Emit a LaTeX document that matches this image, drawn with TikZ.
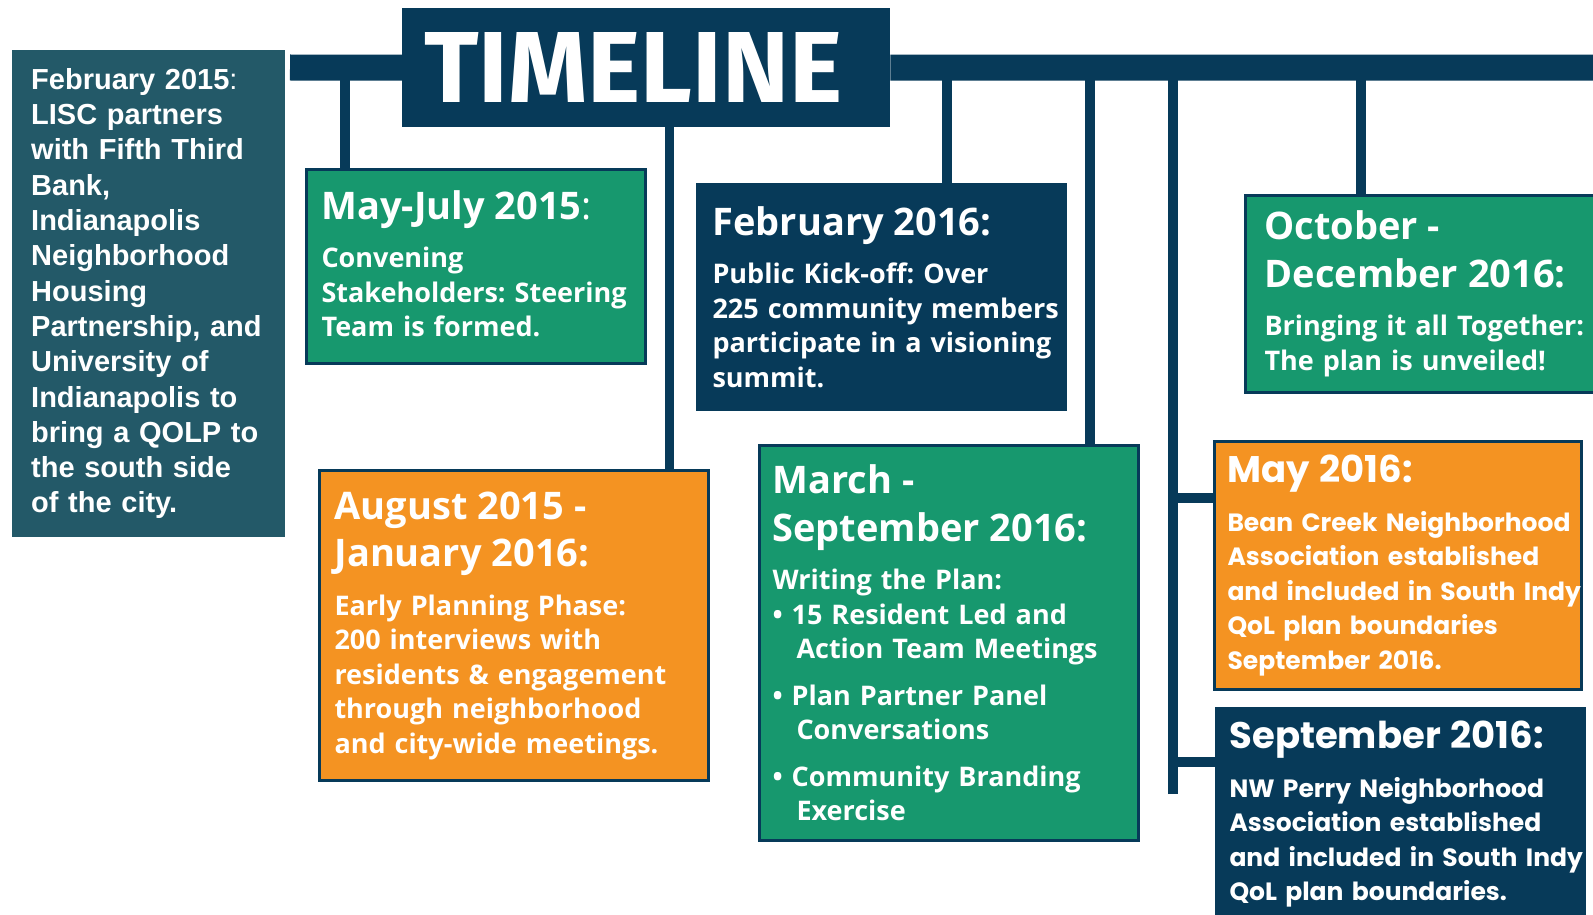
\documentclass[tikz,border=0pt]{standalone}
\usepackage{fontspec}
\usepackage{xcolor}
\usetikzlibrary{positioning}

\newfontfamily\leftfont{Liberation Sans}
\newfontfamily\boxfont{Open Sans}
\newfontfamily\roundfont{Poppins}
\newfontfamily\titlefont{Fira Sans}

\definecolor{lineNavy}{RGB}{7,58,89}
\definecolor{boxGreen}{RGB}{23,152,110}
\definecolor{boxOrange}{RGB}{244,147,34}
\definecolor{boxTeal}{RGB}{35,89,104}

\newcommand{\wordgap}{\frenchspacing\spaceskip = 0.26em plus 0.1em minus 0.04em\relax}
\newcommand{\hdsize}{\fontsize{38}{47.5}\selectfont\wordgap}
\newcommand{\rdhdsize}{\fontsize{37}{47.5}\selectfont\wordgap}
\newcommand{\txtsize}{\fontsize{27}{34.5}\selectfont\wordgap}
\newcommand{\rdtxtsize}{\fontsize{25}{34.5}\selectfont\wordgap}
\newcommand{\boxhead}[1]{{\hdsize #1\par}\vspace{14pt}}
\newcommand{\rdboxhead}[1]{{\rdhdsize #1\par}\vspace{14pt}}
\newcommand{\itemgap}{\hspace*{24pt}}

\tikzset{
  box/.style = {anchor = north west, draw = lineNavy, line width = 3pt, text = white, align = left, inner xsep = 6pt, inner ysep = 0pt, font = \boxfont\bfseries\txtsize, execute at begin node = {\leftskip = #1\rightskip = -20pt plus 1fil\relax}},
  box/.default = 9pt,
  stem/.style = {draw = lineNavy, line width = 9.5pt},
  bar/.style = {draw = lineNavy, line width = 26pt}
}

\begin{document}
\begin{tikzpicture}[x = 1pt, y = -1pt]
  \useasboundingbox (0,0) rectangle (1593,915);
  \clip (0,0) rectangle (1593,915);

  \node[anchor = north west, fill = boxTeal, text = white, align = left, text width = 235pt, inner xsep = 19pt, minimum height = 487pt, font = \leftfont\bfseries\fontsize{29}{35.3}\selectfont](feb2015) at (12,50) {February 2015{\mdseries:}\\ LISC partners\\ with Fifth Third\\ Bank,\\ Indianapolis\\ Neighborhood\\ Housing\\ Partnership, and\\ University of\\ Indianapolis to\\ bring a QOLP to\\ the south side\\ of the city.};

  \node[anchor = north west, fill = lineNavy, text = white, minimum width = 488pt, minimum height = 119pt, inner sep = 0pt, font = \titlefont\bfseries\fontsize{101}{101}\selectfont](title) at (402,8) {TIMELINE\hspace*{26pt}};

  \node[box, fill = boxGreen, text width = 327pt, minimum height = 194pt](mayJuly) at (305,168) {\boxhead{May-July 2015{\mdseries:}}Convening\\ Stakeholders: Steering\\ Team is formed.\par\kern6pt};
  \node[box, fill = lineNavy, text width = 356pt, minimum height = 225pt](feb2016) at (696,183) {\boxhead{February 2016:}Public Kick-off: Over\\ 225 community members\\ participate in a visioning\\ summit.};
  \node[box = 13pt, fill = boxGreen, text width = 368pt, minimum height = 197pt](octDec) at (1244,194) {\boxhead{October -\\ December 2016:}Bringing it all Together:\\ The plan is unveiled!};
  \node[box, fill = boxOrange, text width = 377pt, minimum height = 310pt](augJan) at (318,469) {\boxhead{August 2015 -\\ January 2016:}Early Planning Phase:\\ 200 interviews with\\ residents \& engagement\\ through neighborhood\\ and city-wide meetings.};
  \node[box = 7pt, fill = boxGreen, text width = 367pt, minimum height = 395pt](marSep) at (758,444) {\boxhead{March -\\ September 2016:}Writing the Plan:\\ \textbullet\ 15 Resident Led and\\ \itemgap Action Team Meetings\\[12pt] \textbullet\ Plan Partner Panel\\ \itemgap Conversations\\[12pt] \textbullet\ Community Branding\\ \itemgap Exercise};
  \node[box = 7pt, fill = boxOrange, text width = 355pt, minimum height = 248pt, font = \roundfont\bfseries\rdtxtsize](may2016) at (1213,440) {\rdboxhead{May 2016:}Bean Creek Neighborhood\\ Association established\\ and included in South Indy\\ QoL plan boundaries\\ September 2016.};
  \node[box = 7pt, fill = lineNavy, text width = 356pt, minimum height = 212pt, font = \roundfont\bfseries\rdtxtsize](sep2016) at (1215,707) {\rdboxhead{September 2016:}NW Perry Neighborhood\\ Association established\\ and included in South Indy\\ QoL plan boundaries.};

  \coordinate (barStart) at (290,67.5);
  \coordinate (barEnd) at (1600,67.5);
  \draw [bar] (barStart) -- (title.west);
  \draw [bar] (title.east) -- (barEnd);

  \path ([xshift = 40pt]mayJuly.north west) coordinate (stemA);
  \path ([xshift = 351.5pt]augJan.north west) coordinate (stemB);
  \path ([xshift = 251pt]feb2016.north west) coordinate (stemC);
  \path ([xshift = 332pt]marSep.north west) coordinate (stemD);
  \coordinate (stemE) at (1173,794);
  \path ([xshift = 117pt]octDec.north west) coordinate (stemF);
  \path ([yshift = -58pt]may2016.north west) coordinate (branchMay);
  \path ([yshift = -55pt]sep2016.north west) coordinate (branchSep);

  \draw [stem] (stemA) -- (stemA |- barStart);
  \draw [stem] (stemB) -- (stemB |- title.south);
  \draw [stem] (stemC) -- (stemC |- barStart);
  \draw [stem] (stemD) -- (stemD |- barStart);
  \draw [stem] (stemE) -- (stemE |- barStart);
  \draw [stem] (stemF) -- (stemF |- barStart);
  \draw [stem] (branchMay) -- (branchMay -| stemE);
  \draw [stem] (branchSep) -- (branchSep -| stemE);
\end{tikzpicture}
\end{document}
